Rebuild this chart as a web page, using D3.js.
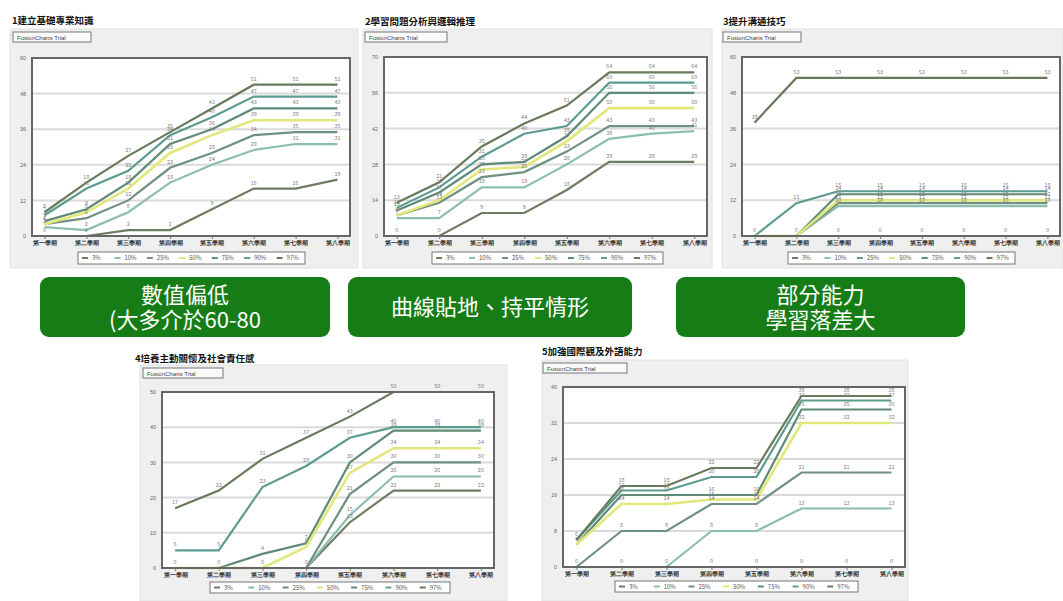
<!DOCTYPE html>
<html><head><meta charset="utf-8">
<script src="https://cdn.jsdelivr.net/npm/d3@7"></script>
<style>
body{margin:0;background:#fff;font-family:"Noto Sans CJK TC","Noto Sans",sans-serif;}
svg{display:block}
</style></head>
<body><svg id="c" width="1063" height="601"></svg>
<script>
// ---- data ----
const categories = ["第一學期","第二學期","第三學期","第四學期","第五學期","第六學期","第七學期","第八學期"];
const seriesNames = ["3%","10%","25%","50%","75%","90%","97%"];
const seriesColors = ["#6e7d62","#8cbdb1","#6f8f80","#e2e77a","#5f8a75","#5c9c90","#687a5c"];
const titles = ["1建立基礎專業知識","2學習問題分析與邏輯推理","3提升溝通技巧","4培養主動關懷及社會責任感","5加強國際觀及外語能力"];
const yMax = [60,70,60,50,40];
// each chart: rows = 3%,10%,25%,50%,75%,90%,97%
const chart1 = [
  [0,0,2,2,9,16,16,19],
  [3,2,8,18,24,29,31,31],
  [4,6,12,23,28,34,35,35],
  [4,8,16,28,34,39,39,39],
  [5,9,18,31,36,43,43,43],
  [7,16,22,34,40,47,47,47],
  [8,18,27,35,43,51,51,51]
];
const chart2 = [
  [0,0,9,9,18,29,29,29],
  [7,7,19,19,28,38,40,41],
  [8,13,23,25,33,43,43,43],
  [8,14,26,27,37,50,50,50],
  [10,17,28,29,39,56,56,56],
  [11,19,31,40,43,60,60,60],
  [13,21,35,44,51,64,64,64]
];
const chart3 = [
  [0,0,0,0,0,0,0,0],
  [0,0,10,10,10,10,10,10],
  [0,0,11,11,11,11,11,11],
  [0,0,12,12,12,12,12,12],
  [0,0,14,14,14,14,14,14],
  [0,11,15,15,15,15,15,15],
  [38,53,53,53,53,53,53,53]
];
const chart4 = [
  [0,0,0,0,13,22,22,22],
  [0,0,0,0,15,26,26,26],
  [0,0,0,0,21,30,30,30],
  [0,0,0,6,27,34,34,34],
  [0,0,4,7,30,39,39,39],
  [5,5,23,29,37,40,40,40],
  [17,22,31,37,43,50,50,50]
];
const chart5 = [
  [0,0,0,0,0,0,0,0],
  [0,0,0,8,8,13,13,13],
  [0,8,8,14,14,21,21,21],
  [5,14,14,15,15,32,32,32],
  [5,16,16,16,16,35,35,35],
  [6,17,17,20,20,37,37,37],
  [6,18,18,22,22,38,38,38]
];
const chartData = [chart1,chart2,chart3,chart4,chart5];
const notes = [["數值偏低","(大多介於60-80"],["曲線貼地、持平情形"],["部分能力","學習落差大"]];

// ---- layout ----
const layout = [
  {tx:12, ty:24, bg:[10,29,348,239], trial:[13,32,78,10], plot:[32,58,318,178], legend:[78,252,227,12]},
  {tx:365, ty:25, bg:[363,29,349,239], trial:[365,32,82,10], plot:[384,57,323,179], legend:[432,252,231,12]},
  {tx:723, ty:25, bg:[722,29,341,239], trial:[723,32,78,10], plot:[742,57,318,179], legend:[788,252,227,12]},
  {tx:135, ty:362, bg:[140,365,367,236], trial:[143,368,80,10], plot:[162,392,332,176], legend:[210,582,240,11]},
  {tx:542, ty:355, bg:[542,360,366,241], trial:[543,363,84,10], plot:[563,387,342,180], legend:[615,581,243,11]}
];
const noteBoxes = [[40,277,290,60],[348,277,284,60],[676,277,289,60]];

const svg = d3.select("#c");

chartData.forEach((data,ci)=>{
  const L = layout[ci];
  const g = svg.append("g");
  g.append("rect").attr("x",L.bg[0]).attr("y",L.bg[1]).attr("width",L.bg[2]).attr("height",L.bg[3])
    .attr("fill","#efefef").attr("stroke","#e2e2e2");
  g.append("text").attr("x",L.tx).attr("y",L.ty).text(titles[ci])
    .attr("font-size",9.5).attr("font-weight","bold").attr("fill","#111");
  g.append("rect").attr("x",L.trial[0]).attr("y",L.trial[1]).attr("width",L.trial[2]).attr("height",L.trial[3])
    .attr("fill","#fafafa").attr("stroke","#777").attr("stroke-width",1);
  g.append("text").attr("x",L.trial[0]+4).attr("y",L.trial[1]+7.5).text("FusionCharts Trial")
    .attr("font-size",6).attr("fill","#444").attr("font-family","Liberation Sans, sans-serif");

  const [px,py,pw,ph] = L.plot;
  const x = d3.scalePoint().domain(categories).range([px,px+pw]).padding(0.3);
  const y = d3.scaleLinear().domain([0,yMax[ci]]).range([py+ph,py]);
  const ticks = d3.range(0,yMax[ci]+0.001,yMax[ci]/5);

  g.append("rect").attr("x",px).attr("y",py).attr("width",pw).attr("height",ph).attr("fill","#fff");
  g.append("g").selectAll("line").data(ticks.slice(1,-1)).join("line")
    .attr("x1",px).attr("x2",px+pw).attr("y1",d=>y(d)).attr("y2",d=>y(d))
    .attr("stroke","#dadada").attr("stroke-width",2);
  const ya = g.append("g").attr("transform",`translate(${px},0)`)
    .call(d3.axisLeft(y).tickValues(ticks).tickSize(0).tickPadding(6).tickFormat(d3.format("d")));
  ya.select(".domain").remove();
  ya.selectAll("text").attr("font-size",5.5).attr("fill","#666");
  const xa = g.append("g").attr("transform",`translate(0,${py+ph})`)
    .call(d3.axisBottom(x).tickSize(3).tickPadding(2));
  xa.select(".domain").remove();
  xa.selectAll("line").attr("stroke","#777");
  xa.selectAll("text").attr("font-size",6).attr("font-weight","bold").attr("fill","#333");

  const line = d3.line().x((d,i)=>x(categories[i])).y(d=>y(d));
  const drawOrder = [0,1,2,4,5,6,3];
  drawOrder.forEach(si=>{
    g.append("path").datum(data[si]).attr("d",line).attr("fill","none")
      .attr("stroke",seriesColors[si]).attr("stroke-width",si===3?2.6:2.2);
  });
  // value labels (one per distinct point)
  const seen = new Set();
  const labels = [];
  data.forEach(row=>row.forEach((v,i)=>{
    const k = i+"_"+v;
    if(!seen.has(k)){seen.add(k);labels.push({i,v});}
  }));
  g.append("g").selectAll("text").data(labels).join("text")
    .attr("x",d=>x(categories[d.i])).attr("y",d=>y(d.v)-4)
    .attr("text-anchor","middle").attr("font-size",5.5).attr("fill","#808080").text(d=>d.v);
  g.append("rect").attr("x",px).attr("y",py).attr("width",pw).attr("height",ph)
    .attr("fill","none").attr("stroke","#666").attr("stroke-width",2);

  const [lx,ly,lw,lh] = L.legend;
  g.append("rect").attr("x",lx).attr("y",ly).attr("width",lw).attr("height",lh)
    .attr("fill","#fff").attr("stroke","#777");
  const step = lw/seriesNames.length;
  seriesNames.forEach((n,si)=>{
    const sx = lx+4+si*step;
    g.append("line").attr("x1",sx).attr("x2",sx+6).attr("y1",ly+lh/2).attr("y2",ly+lh/2)
      .attr("stroke",seriesColors[si]).attr("stroke-width",2);
    g.append("text").attr("x",sx+10).attr("y",ly+lh/2+2).text(n)
      .attr("font-size",6).attr("fill","#555");
  });
});

notes.forEach((lines,ni)=>{
  const [bx,by,bw,bh] = noteBoxes[ni];
  svg.append("rect").attr("x",bx).attr("y",by).attr("width",bw).attr("height",bh)
    .attr("rx",9).attr("fill","#167d16");
  const t = svg.append("text").attr("text-anchor","middle").attr("fill","#fff").attr("font-size",22);
  const cy = by+bh/2;
  lines.forEach((s,li)=>{
    t.append("tspan").attr("x",bx+bw/2)
      .attr("y",cy + (li-(lines.length-1)/2)*25 + 8).text(s);
  });
});
</script></body></html>
